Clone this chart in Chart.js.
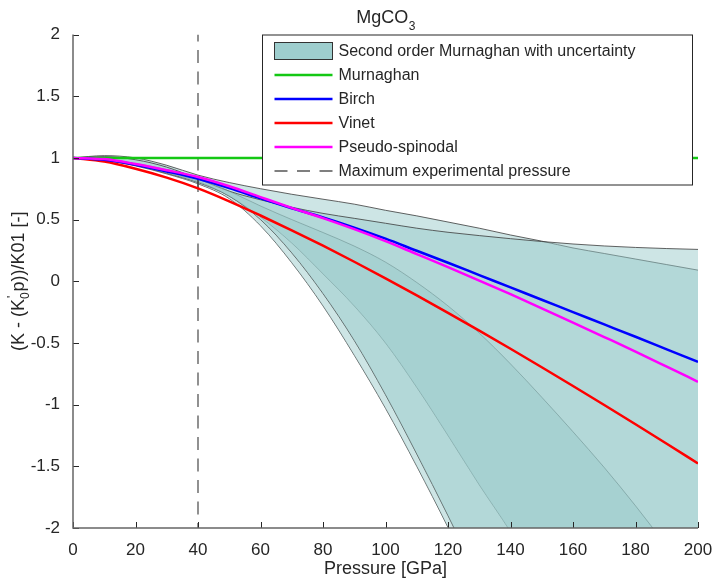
<!DOCTYPE html>
<html>
<head>
<meta charset="utf-8">
<script src="https://cdn.jsdelivr.net/npm/chart.js@4.4.1/dist/chart.umd.min.js"></script>
<style>
  html, body { margin: 0; padding: 0; background: #fff; }
  canvas { display: block; }
</style>
</head>
<body>
<canvas id="eos" width="715" height="584"></canvas>
<script>
const FONT = '"Liberation Sans", Arial, Helvetica, sans-serif';
const TEXT = '#262626';

// pressure grid [GPa]
const pressure = [0, 10, 20, 30, 40, 50, 60, 70, 80, 90, 100, 110, 120, 130, 140, 150, 160, 170, 180, 190, 200];

// (K - K0' p) / K01 for each equation of state
const murnaghan = [1, 1, 1, 1, 1, 1, 1, 1, 1, 1, 1, 1, 1, 1, 1, 1, 1, 1, 1, 1, 1];
const birch = [1, 0.985, 0.945, 0.89, 0.83, 0.755, 0.672, 0.592, 0.517, 0.435, 0.345, 0.247, 0.15, 0.05, -0.05, -0.15, -0.25, -0.35, -0.45, -0.552, -0.654];
const vinet = [1, 0.97, 0.912, 0.84, 0.753, 0.648, 0.533, 0.413, 0.288, 0.158, 0.023, -0.115, -0.256, -0.4, -0.547, -0.697, -0.849, -1.003, -1.159, -1.317, -1.477];
const pseudoSpinodal = [1, 0.99, 0.95, 0.9, 0.845, 0.77, 0.682, 0.595, 0.512, 0.422, 0.325, 0.22, 0.115, 0.005, -0.105, -0.22, -0.335, -0.452, -0.57, -0.692, -0.815];

// second order Murnaghan: bounds of the uncertainty envelopes
const outerUpperA = [1, 1.018, 1.0, 0.94, 0.86, 0.8, 0.75, 0.705, 0.665, 0.625, 0.575, 0.53, 0.48, 0.43, 0.375, 0.325, 0.27, 0.225, 0.18, 0.135, 0.09];
const outerLowerA = [1, 0.98, 0.935, 0.87, 0.79, 0.67, 0.45, 0.15, -0.2, -0.6, -1.03, -1.5, -1.995, -2.52, -3.07, -3.65, -4.25, -4.88, -5.53, -6.2, -6.9];
const outerUpperB = [1, 1.01, 0.985, 0.925, 0.83, 0.73, 0.66, 0.6, 0.55, 0.51, 0.47, 0.43, 0.397, 0.37, 0.345, 0.322, 0.302, 0.286, 0.274, 0.265, 0.258];
const outerLowerB = [1, 0.985, 0.94, 0.875, 0.8, 0.69, 0.5, 0.23, -0.1, -0.48, -0.92, -1.4, -1.9, -2.42, -2.96, -3.52, -4.1, -4.7, -5.32, -5.96, -6.62];
const innerUpper = [1, 0.99, 0.955, 0.905, 0.84, 0.73, 0.61, 0.5, 0.395, 0.285, 0.155, -0.01, -0.2, -0.42, -0.67, -0.94, -1.22, -1.51, -1.82, -2.15, -2.5];
const innerLower = [1, 0.98, 0.94, 0.88, 0.81, 0.69, 0.52, 0.31, 0.06, -0.2, -0.5, -0.86, -1.25, -1.65, -2.03, -2.45, -2.9, -3.37, -3.86, -4.37, -4.9];

const maxExperimentalPressure = 40;
const xTicks = [0, 20, 40, 60, 80, 100, 120, 140, 160, 180, 200];
const yTicks = [-2, -1.5, -1, -0.5, 0, 0.5, 1, 1.5, 2];

const BAND = 'rgba(150, 200, 200, 0.48)';
const OUTER_EDGE = 'rgba(60, 60, 60, 0.8)';
const INNER_EDGE = 'rgba(90, 125, 125, 0.45)';

const pts = (ys) => pressure.map((p, i) => ({ x: p, y: ys[i] }));
const atMaxP = (ys) => ys[pressure.indexOf(maxExperimentalPressure)];

function curve(label, ys, color, width, extra) {
  return {
    label,
    data: pts(ys),
    borderColor: color,
    borderWidth: width,
    pointRadius: 0,
    cubicInterpolationMode: 'monotone',
    fill: false,
    ...extra,
  };
}

const datasets = [
  // 0..5: uncertainty envelopes (filled pairwise)
  curve('upperA', outerUpperA, OUTER_EDGE, 1, { fill: { target: 1 }, backgroundColor: BAND, order: 20 }),
  curve('lowerA', outerLowerA, OUTER_EDGE, 1, { order: 20 }),
  curve('upperB', outerUpperB, OUTER_EDGE, 1, { fill: { target: 3 }, backgroundColor: BAND, order: 19 }),
  curve('lowerB', outerLowerB, OUTER_EDGE, 1, { order: 19 }),
  curve('innerUpper', innerUpper, INNER_EDGE, 1, { fill: { target: 5 }, backgroundColor: BAND, order: 18 }),
  curve('innerLower', innerLower, INNER_EDGE, 1, { order: 18 }),
  // 6..: equations of state
  curve('Murnaghan', murnaghan, '#14c814', 2.5, { order: 5 }),
  curve('Vinet', vinet, '#ff0000', 2.5, { order: 4 }),
  curve('Birch', birch, '#0000ff', 2.5, { order: 3 }),
  curve('Pseudo-spinodal', pseudoSpinodal, '#ff00ff', 2.5, { order: 2 }),
  {
    label: 'Maximum experimental pressure',
    data: [{ x: maxExperimentalPressure, y: 2 }, { x: maxExperimentalPressure, y: -2 }],
    borderColor: '#555555',
    borderWidth: 1.3,
    borderDash: [13, 8.5],
    borderDashOffset: 6,
    pointRadius: 0,
    fill: false,
    order: 10,
  },
  {
    // seam of the fitted range at the maximum pressure
    label: 'seam',
    data: [
      { x: maxExperimentalPressure, y: atMaxP(vinet) },
      { x: maxExperimentalPressure, y: atMaxP(birch) },
    ],
    borderColor: 'rgba(40, 40, 40, 0.85)',
    borderWidth: 1,
    pointRadius: 0,
    fill: false,
    order: 9,
  },
];

// legend rows: [label, kind, color]
const legendRows = [
  ['Second order Murnaghan with uncertainty', 'patch', 'rgb(158, 206, 206)'],
  ['Murnaghan', 'line', '#14c814'],
  ['Birch', 'line', '#0000ff'],
  ['Vinet', 'line', '#ff0000'],
  ['Pseudo-spinodal', 'line', '#ff00ff'],
  ['Maximum experimental pressure', 'dash', '#555555'],
];

const frame = {
  id: 'frame',
  afterDatasetsDraw(chart) {
    const { ctx, chartArea: { left, right, top, bottom }, scales: { x, y } } = chart;
    ctx.save();
    ctx.strokeStyle = TEXT;
    ctx.lineWidth = 1;
    xTicks.forEach((v) => {
      const px = Math.round(x.getPixelForValue(v)) + 0.5;
      ctx.beginPath();
      ctx.moveTo(px, bottom);
      ctx.lineTo(px, bottom - 6);
      ctx.stroke();
    });
    yTicks.forEach((v) => {
      const py = Math.round(y.getPixelForValue(v)) + 0.5;
      ctx.beginPath();
      ctx.moveTo(left, py);
      ctx.lineTo(left + 6, py);
      ctx.stroke();
    });
    ctx.strokeStyle = '#666666';
    ctx.lineWidth = 1.5;
    ctx.beginPath();
    ctx.moveTo(left, top);
    ctx.lineTo(left, bottom);
    ctx.lineTo(right, bottom);
    ctx.stroke();
    ctx.restore();
  },
  afterDraw(chart) {
    const { ctx, chartArea } = chart;
    ctx.save();

    // legend box
    const bx = chartArea.right - 435.5;
    const by = chartArea.top + 0.5;
    const bw = 430;
    const bh = 150;
    ctx.fillStyle = '#ffffff';
    ctx.fillRect(bx, by, bw, bh);
    ctx.strokeStyle = '#262626';
    ctx.lineWidth = 1;
    ctx.strokeRect(bx, by, bw, bh);
    ctx.font = `16px ${FONT}`;
    ctx.textBaseline = 'middle';
    ctx.textAlign = 'left';
    legendRows.forEach(([label, kind, color], i) => {
      const cy = by + 16 + i * 24;
      const sx = bx + 12;
      const ex = bx + 70;
      if (kind === 'patch') {
        ctx.fillStyle = color;
        ctx.fillRect(sx, cy - 8.5, ex - sx, 17);
        ctx.strokeStyle = '#333333';
        ctx.lineWidth = 1;
        ctx.strokeRect(sx, cy - 8.5, ex - sx, 17);
      } else {
        ctx.strokeStyle = color;
        ctx.lineWidth = kind === 'dash' ? 1.3 : 2.5;
        ctx.setLineDash(kind === 'dash' ? [13, 9.5] : []);
        ctx.beginPath();
        ctx.moveTo(sx, cy);
        ctx.lineTo(ex, cy);
        ctx.stroke();
        ctx.setLineDash([]);
      }
      ctx.fillStyle = TEXT;
      ctx.fillText(label, bx + 76, cy + 1);
    });

    // title with subscript
    ctx.fillStyle = TEXT;
    ctx.textBaseline = 'alphabetic';
    ctx.font = `18px ${FONT}`;
    const main = 'MgCO';
    const mw = ctx.measureText(main).width;
    ctx.font = `12px ${FONT}`;
    const sw = ctx.measureText('3').width;
    const cx = (chartArea.left + chartArea.right) / 2;
    const tx = cx - (mw + sw) / 2;
    ctx.font = `18px ${FONT}`;
    ctx.fillText(main, tx, 23);
    ctx.font = `12px ${FONT}`;
    ctx.fillText('3', tx + mw + 0.5, 30);

    // y axis title: (K - (K'0 p))/K01 [-]
    ctx.translate(24, (chartArea.top + chartArea.bottom) / 2);
    ctx.rotate(-Math.PI / 2);
    ctx.font = `18px ${FONT}`;
    const a = '(K - (K';
    const b = 'p))/K01 [-]';
    const aw = ctx.measureText(a).width;
    const bwid = ctx.measureText(b).width;
    ctx.font = `12px ${FONT}`;
    const zw = ctx.measureText('0').width;
    const total = aw + zw + 1 + bwid;
    let px = -total / 2;
    ctx.font = `18px ${FONT}`;
    ctx.fillText(a, px, 0);
    px += aw;
    ctx.font = `12px ${FONT}`;
    ctx.fillText("'", px + 1, -8);
    ctx.fillText('0', px, 5);
    px += zw + 1;
    ctx.font = `18px ${FONT}`;
    ctx.fillText(b, px, 0);
    ctx.restore();
  },
};

new Chart(document.getElementById('eos'), {
  type: 'line',
  data: { datasets },
  plugins: [frame],
  options: {
    responsive: false,
    devicePixelRatio: 1,
    animation: false,
    events: [],
    layout: { padding: { left: 0, right: 17, top: 34.5, bottom: 0 } },
    plugins: {
      legend: { display: false },
      title: { display: false },
      tooltip: { enabled: false },
      filler: { propagate: false },
    },
    scales: {
      x: {
        type: 'linear',
        min: 0,
        max: 200,
        grid: { display: false, drawTicks: false },
        border: { display: false },
        afterBuildTicks: (s) => { s.ticks = xTicks.map((v) => ({ value: v })); },
        afterFit: (s) => {
          s.height = 56;
          s.paddingLeft = 0;
          s.paddingRight = 0;
        },
        ticks: {
          padding: 12,
          color: TEXT,
          font: { family: FONT, size: 17 },
          maxRotation: 0,
          autoSkip: false,
          callback: (v) => String(v),
        },
        title: {
          display: true,
          text: 'Pressure [GPa]',
          color: TEXT,
          font: { family: FONT, size: 18 },
          padding: { top: 0, bottom: 4 },
        },
      },
      y: {
        type: 'linear',
        min: -2,
        max: 2,
        grid: { display: false, drawTicks: false },
        border: { display: false },
        afterBuildTicks: (s) => { s.ticks = yTicks.map((v) => ({ value: v })); },
        afterFit: (s) => {
          s.width = 73;
          s.paddingTop = 0;
          s.paddingBottom = 0;
        },
        ticks: {
          padding: 13,
          color: TEXT,
          font: { family: FONT, size: 17 },
          autoSkip: false,
          callback: (v) => String(v),
        },
      },
    },
  },
});
</script>
</body>
</html>
